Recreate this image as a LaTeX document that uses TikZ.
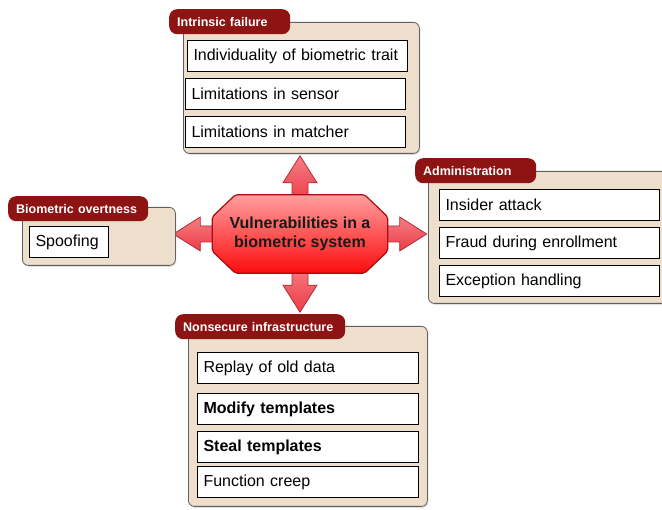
\documentclass[tikz,border=0pt]{standalone}
\usepackage{fontspec}
\setmainfont{Liberation Sans}
\usetikzlibrary{shadows, backgrounds}
\definecolor{tabred}{HTML}{8E1414}
\definecolor{panelbg}{HTML}{EEDFCC}
\definecolor{arrowred}{HTML}{EE3A44}
\definecolor{octline}{HTML}{A80C10}

\tikzset{
  blockarrow/.pic={
    \draw[arrowbody] (-8,-8) -- (12,-8) -- (12,-17) -- (39,0) -- (12,17) -- (12,8) -- (-8,8) -- cycle;
  }
}

\begin{document}
\begin{tikzpicture}[x=1pt,y=-1pt,
    panel/.style={draw=gray!75!black, fill=panelbg, rounded corners=6pt, line width=0.8pt,
      drop shadow={opacity=0.25, shadow xshift=1pt, shadow yshift=-1.5pt}, anchor=north west},
    tab/.style={fill=tabred, rounded corners=8pt, text=white, anchor=north west,
      font=\fontsize{12.5}{14}\selectfont\bfseries, inner xsep=8pt, inner ysep=0pt,
      minimum height=25pt, text width=#1, align=left},
    item/.style={draw=black, fill=white, line width=1pt, anchor=north west,
      minimum height=31pt, inner xsep=6pt, text width=#1, align=left,
      font=\fontsize{16}{18}\selectfont},
    arrowbody/.style={draw=arrowred!75!black, line width=0.8pt,
      top color=arrowred!65!white, bottom color=arrowred},
    vulnbox/.style={minimum width=175pt, minimum height=78pt, inner sep=0pt, align=center,
      font=\fontsize{16}{19}\selectfont\bfseries, text=black!90},
    octbody/.style={draw=octline, line width=1.2pt, rounded corners=2pt,
      top color=red!38!white, bottom color=red!80!arrowred}]
  \clip (0,0) rectangle (662,510);

  % centre
  \node[vulnbox] (vuln) at (300,234) {Vulnerabilities in a\\biometric system};
  \begin{scope}[on background layer]
    \pic[rotate=90] at (vuln.north) {blockarrow};
    \pic[rotate=-90] at (vuln.south) {blockarrow};
    \pic[rotate=180] at (vuln.west) {blockarrow};
    \pic at (vuln.east) {blockarrow};
    \draw[octbody] ([xshift=23pt]vuln.north west) -- ([xshift=-23pt]vuln.north east)
      -- ([yshift=-22pt]vuln.north east) -- ([yshift=22pt]vuln.south east)
      -- ([xshift=-23pt]vuln.south east) -- ([xshift=23pt]vuln.south west)
      -- ([yshift=22pt]vuln.south west) -- ([yshift=-22pt]vuln.north west) -- cycle;
  \end{scope}

  % intrinsic failure
  \node[panel, minimum width=236pt, minimum height=131pt] (intrinsic) at (183,22) {};
  \node[tab=105pt] (intrinsictab) at (169,9) {Intrinsic failure};
  \node[item=208pt] (trait) at (187,40) {Individuality of biometric trait};
  \node[item=208pt] (sensor) at (185,78) {Limitations in sensor};
  \node[item=208pt] (matcher) at (185,116) {Limitations in matcher};

  % biometric overtness
  \node[panel, minimum width=153pt, minimum height=58pt] (overt) at (22,207) {};
  \node[tab=124pt] (overttab) at (8,196) {Biometric overtness};
  \node[item=67pt] (spoof) at (29,226) {Spoofing};

  % administration
  \node[panel, minimum width=240pt, minimum height=132pt] (admin) at (428,171) {};
  \node[tab=105pt] (admintab) at (415,158) {Administration};
  \node[item=208pt] (insider) at (439,189) {Insider attack};
  \node[item=208pt] (fraud) at (439,227) {Fraud during enrollment};
  \node[item=208pt] (exception) at (439,265) {Exception handling};

  % nonsecure infrastructure
  \node[panel, minimum width=239pt, minimum height=180pt] (infra) at (188,326) {};
  \node[tab=154pt] (infratab) at (175,314) {Nonsecure infrastructure};
  \node[item=209pt] (replay) at (197,352) {Replay of old data};
  \node[item=209pt] (modify) at (197,393) {\textbf{Modify templates}};
  \node[item=209pt] (steal) at (197,431) {\textbf{Steal templates}};
  \node[item=209pt] (creep) at (197,466) {Function creep};
\end{tikzpicture}
\end{document}
